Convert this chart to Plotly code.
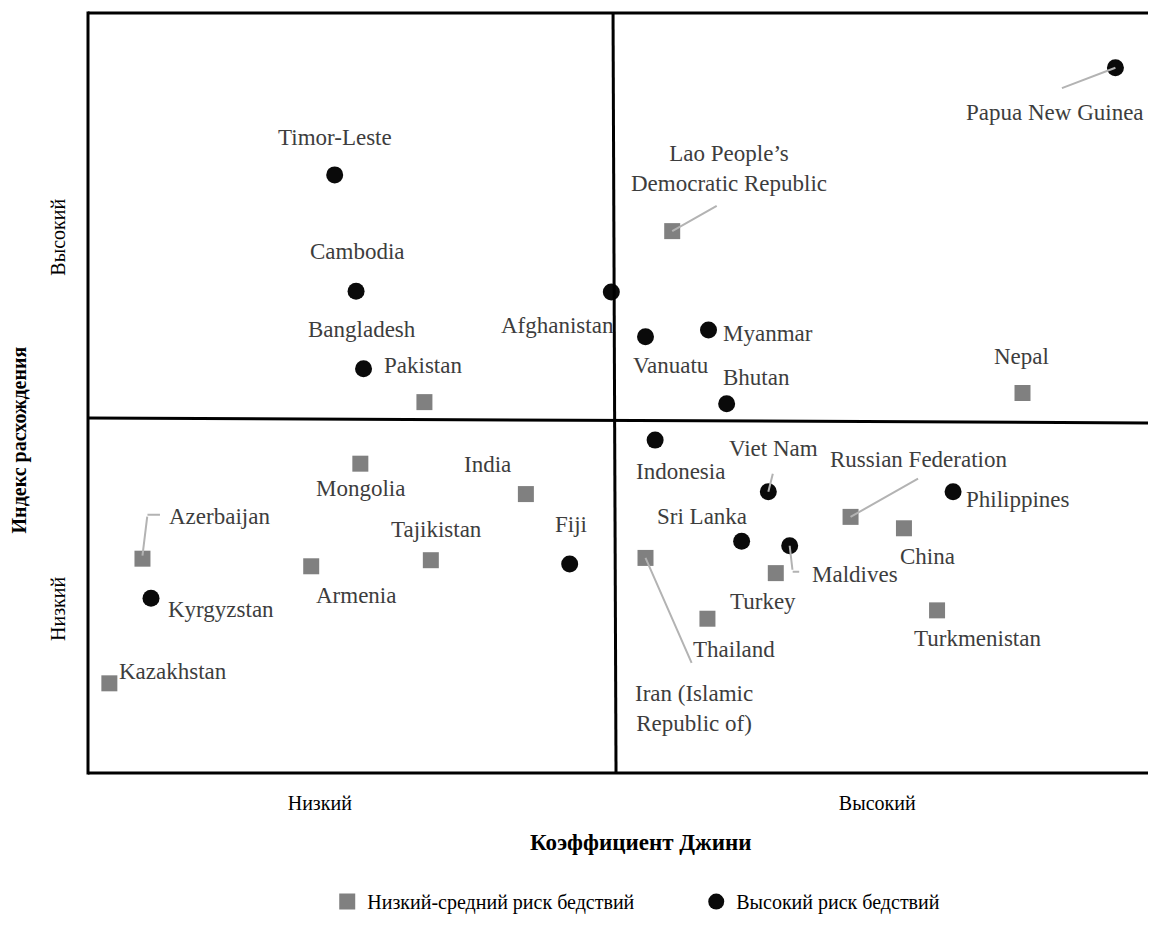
import plotly.graph_objects as go

# ---------------- DATA (index units, 0-100 on both axes) ----------------
# Low-medium disaster risk (squares)
low_countries = ["Pakistan", "Lao People’s<br>Democratic Republic", "Nepal", "Mongolia", "India",
                 "Azerbaijan", "Armenia", "Tajikistan", "Kazakhstan", "Turkey",
                 "Iran (Islamic<br>Republic of)", "Thailand", "Russian Federation", "China", "Turkmenistan"]
low_gini = [31.5, 54.7, 87.5, 25.5, 41.0, 5.1, 20.9, 32.1, 2.0, 64.4, 52.2, 58.0, 71.4, 76.4, 79.5]
low_divergence = [48.8, 71.3, 50.0, 40.7, 36.7, 28.2, 27.2, 28.0, 11.8, 26.3, 28.3, 20.3, 33.7, 32.2, 21.4]

# High disaster risk (circles)
high_countries = ["Timor-Leste", "Cambodia", "Bangladesh", "Afghanistan", "Vanuatu", "Myanmar",
                  "Bhutan", "Papua New Guinea", "Kyrgyzstan", "Fiji", "Indonesia", "Viet Nam",
                  "Sri Lanka", "Maldives", "Philippines"]
high_gini = [23.1, 25.1, 25.8, 49.0, 52.2, 58.1, 59.8, 96.2, 5.9, 45.1, 53.1, 63.7, 61.2, 65.7, 81.0]
high_divergence = [78.7, 63.4, 53.2, 63.3, 57.4, 58.3, 48.6, 92.8, 23.0, 27.5, 43.8, 37.0, 30.5, 29.9, 37.0]

x_tick_vals = [21.7, 73.9]
x_tick_text = ["Низкий", "Высокий"]
y_tick_vals = [21.2, 70.1]
y_tick_text = ["Низкий", "Высокий"]

series_names = ["Низкий-средний риск бедствий", "Высокий риск бедствий"]
x_title = "Коэффициент Джини"
y_title = "Индекс расхождения"

# quadrant dividers (index units)
v_div_top, v_div_bottom = 49.16, 49.44
h_div_left, h_div_right = 46.71, 46.05

# ---------------- LABEL PLACEMENT (screen px offsets from the point) ----------------
label_offsets = {
    "Pakistan": (-1, -37), "Lao People’s<br>Democratic Republic": (57, -63), "Nepal": (-1, -37),
    "Mongolia": (0, 25), "India": (-38, -30), "Azerbaijan": (77, -42), "Armenia": (45, 29),
    "Tajikistan": (6, -31), "Kazakhstan": (64, -12), "Turkey": (-13, 28),
    "Iran (Islamic<br>Republic of)": (48, 151), "Thailand": (27, 31), "Russian Federation": (68, -57),
    "China": (24, 28), "Turkmenistan": (40, 28),
    "Timor-Leste": (0, -37), "Cambodia": (1, -40), "Bangladesh": (-2, -39), "Afghanistan": (-54, 34),
    "Vanuatu": (25, 29), "Myanmar": (59, 4), "Bhutan": (30, -26), "Papua New Guinea": (-60, 45),
    "Kyrgyzstan": (70, 11), "Fiji": (1, -40), "Indonesia": (25, 31), "Viet Nam": (5, -43),
    "Sri Lanka": (-40, -25), "Maldives": (65, 29), "Philippines": (65, 8),
}
# leader lines: (start shift from point, tail offset from start) in screen px
leaders = {
    "Lao People’s<br>Democratic Republic": [((0, 0), (46, -26))],
    "Papua New Guinea": [((0, 0), (-55, 21))],
    "Azerbaijan": [((0, -3), (5, -41)), ((5, -44), (14, 0))],
    "Viet Nam": [((0, 0), (5, -20))],
    "Maldives": [((0, 0), (3, 26)), ((3, 26), (8, 0))],
    "Iran (Islamic<br>Republic of)": [((0, 0), (47, 107))],
    "Russian Federation": [((0, 0), (69, -39))],
}

FONT = "Liberation Serif, Times New Roman, serif"
LABEL_COLOR = "#3d3d3d"
LEADER_COLOR = "#b3b3b3"

fig = go.Figure()
fig.add_trace(go.Scatter(
    x=low_gini, y=low_divergence, mode="markers", name=series_names[0],
    marker=dict(symbol="square", size=16, color="#808080"),
    text=low_countries, hoverinfo="text"))
fig.add_trace(go.Scatter(
    x=high_gini, y=high_divergence, mode="markers", name=series_names[1],
    marker=dict(symbol="circle", size=17, color="#0a0a0a"),
    text=high_countries, hoverinfo="text"))

annotations = []
all_pts = list(zip(low_countries, low_gini, low_divergence)) + list(zip(high_countries, high_gini, high_divergence))
for name, gx, dy in all_pts:
    for (sx, sy), (tx, ty) in leaders.get(name, []):
        annotations.append(dict(
            x=gx, y=dy, xref="x", yref="y", text=" ", showarrow=True, arrowhead=0,
            arrowwidth=2, arrowcolor=LEADER_COLOR, ax=tx, ay=ty, standoff=0, startstandoff=0,
            xshift=sx, yshift=-sy, font=dict(size=1)))
for name, gx, dy in all_pts:
    ox, oy = label_offsets[name]
    annotations.append(dict(
        x=gx, y=dy, xref="x", yref="y", text=name, showarrow=False,
        xshift=ox, yshift=-oy, xanchor="center", yanchor="middle",
        font=dict(family=FONT, size=23, color=LABEL_COLOR)))

annotations.append(dict(x=0.517, y=-0.0921, xref="paper", yref="paper", text="<b>" + x_title + "</b>",
                        showarrow=False, xanchor="center", yanchor="middle",
                        font=dict(family=FONT, size=23, color="black")))
annotations.append(dict(x=-0.0643, y=0.438, xref="paper", yref="paper", text="<b>" + y_title + "</b>",
                        showarrow=False, xanchor="center", yanchor="middle", textangle=-90,
                        font=dict(family=FONT, size=20, color="black")))

shapes = [
    dict(type="line", xref="paper", yref="paper", x0=0, x1=1.02, y0=1, y1=1, line=dict(color="black", width=3)),
    dict(type="line", xref="paper", yref="paper", x0=0, x1=1.02, y0=0, y1=0, line=dict(color="black", width=3)),
    dict(type="line", xref="paper", yref="paper", x0=0, x1=0, y0=-0.002, y1=1.002, line=dict(color="black", width=3)),
    dict(type="line", xref="x", yref="y", x0=v_div_top, x1=v_div_bottom, y0=100, y1=0, line=dict(color="black", width=3)),
    dict(type="line", xref="x", yref="y", x0=0, x1=102, y0=h_div_left, y1=h_div_right, line=dict(color="black", width=3)),
]

# the page's 8px body margin offsets the figure, so it is sized to fit the 1156x925 window
fig.update_layout(
    width=1148, height=909,
    margin=dict(l=80, r=0, t=5, b=144, autoexpand=False),
    paper_bgcolor="white", plot_bgcolor="white",
    annotations=annotations, shapes=shapes,
    showlegend=True,
    legend=dict(orientation="h", x=0.224, xanchor="left", yref="container", y=0.017, yanchor="middle",
                font=dict(family=FONT, size=20, color="black"),
                entrywidth=324, entrywidthmode="pixels", bgcolor="rgba(0,0,0,0)"),
    xaxis=dict(range=[0, 100], showgrid=False, zeroline=False, showline=False,
               tickvals=x_tick_vals, ticktext=x_tick_text, ticks="",
               tickfont=dict(family=FONT, size=20, color="black"), ticklabelstandoff=16),
    yaxis=dict(range=[0, 100], showgrid=False, zeroline=False, showline=False,
               tickvals=y_tick_vals, ticktext=y_tick_text, ticks="", tickangle=-90,
               tickfont=dict(family=FONT, size=20, color="black"), ticklabelstandoff=18),
)

fig.write_html("out.html")
